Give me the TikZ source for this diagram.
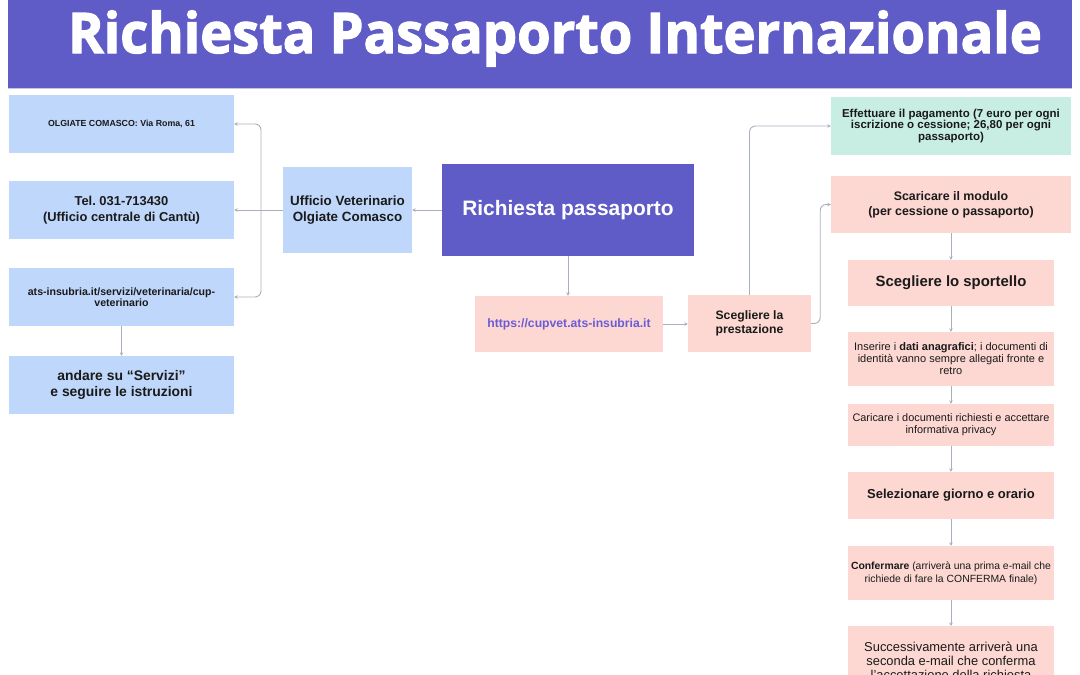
\documentclass[tikz,border=0pt]{standalone}
\usepackage{fontspec}
\setmainfont{Liberation Sans}
\newfontfamily\titlefont{Open Sans}[FakeBold=2.2]
\usetikzlibrary{arrows.meta}
\definecolor{banner}{HTML}{5F5BC7}
\definecolor{lblue}{HTML}{BFD7FB}
\definecolor{lpink}{HTML}{FDD8D3}
\definecolor{mint}{HTML}{C8EEE3}
\definecolor{linkc}{HTML}{6B5CD6}
\definecolor{conn}{HTML}{A9B0BD}
\definecolor{ink}{HTML}{1A1A1A}
\newcommand{\fs}[2]{\fontsize{#1}{#2}\selectfont}
\frenchspacing
\begin{document}
\begin{tikzpicture}[x=1pt,y=-1pt,
  boxbase/.style={rectangle,inner sep=0pt,align=center,text=ink},
  bluebox/.style={boxbase,fill=lblue},
  pinkbox/.style={boxbase,fill=lpink},
  mintbox/.style={boxbase,fill=mint},
  purplebox/.style={boxbase,fill=banner,text=white},
  connector/.style={draw=conn,line width=0.9pt,-{Stealth[length=3.5pt,width=3.5pt]}},
  roundconn/.style={connector,rounded corners=6pt}
]
\useasboundingbox (0,0) rectangle (1080,675);
\clip (0,0) rectangle (1080,675);
% banner
\node[purplebox,minimum width=1064,minimum height=88] (banner) at (540,44) {};
\draw[conn!70,line width=0.6pt] (banner.south west) -- (banner.south east);
\node[anchor=base,text=white,inner sep=0pt] (title) at (555,53)
  {\resizebox{974pt}{\height}{\titlefont\bfseries\fs{56}{56}Richiesta Passaporto Internazionale}};
% left column
\node[bluebox,minimum width=225,minimum height=58,font={\bfseries\fs{8.8}{10}}] (b1) at (121.5,124)
  {OLGIATE COMASCO: Via Roma, 61};
\node[bluebox,minimum width=225,minimum height=58,font={\bfseries\fs{12.9}{15.5}}] (b2) at (121.5,210)
  {Tel. 031-713430\\(Ufficio centrale di Cantù)};
\node[bluebox,minimum width=225,minimum height=58,font={\bfseries\fs{10.6}{11.5}}] (b3) at (121.5,297)
  {ats-insubria.it/servizi/veterinaria/cup-\\veterinario};
\node[bluebox,minimum width=225,minimum height=58,font={\bfseries\fs{13.9}{15.5}}] (b4) at (121.5,385)
  {andare su “Servizi”\\e seguire le istruzioni};
\node[bluebox,minimum width=129,minimum height=86,font={\bfseries\fs{13.4}{16}}] (uff) at (347.5,210)
  {Ufficio Veterinario\\Olgiate Comasco};
\node[purplebox,minimum width=252,minimum height=92,font={\bfseries\fs{20.9}{24}}] (rp) at (568,210)
  {Richiesta passaporto};
\node[pinkbox,minimum width=188,minimum height=56,text=linkc,font={\bfseries\fs{12.2}{13}}] (url) at (569,324)
  {https://cupvet.ats-insubria.it};
\node[pinkbox,minimum width=123,minimum height=57,font={\bfseries\fs{12.2}{14.5}}] (sp) at (749.5,323.5)
  {Scegliere la\\prestazione};
% right column
\node[mintbox,minimum width=240,minimum height=58,font={\bfseries\fs{11.5}{11.5}}] (eff) at (951,126)
  {Effettuare il pagamento (7 euro per ogni\\iscrizione o cessione; 26,80 per ogni\\passaporto)};
\node[pinkbox,minimum width=240,minimum height=57,font={\bfseries\fs{12.4}{15}}] (sca) at (951,204.5)
  {Scaricare il modulo\\(per cessione o passaporto)};
\node[pinkbox,minimum width=206,minimum height=46,font={\bfseries\fs{14.9}{16}}] (spo) at (951,283)
  {Scegliere lo sportello};
\node[pinkbox,minimum width=206,minimum height=54,font={\fs{11}{12}}] (ins) at (951,359)
  {Inserire i \textbf{dati anagrafici}; i documenti di\\identità vanno sempre allegati fronte e\\retro};
\node[pinkbox,minimum width=206,minimum height=42,font={\fs{10.9}{12}}] (car) at (951,425)
  {Caricare i documenti richiesti e accettare\\informativa privacy};
\node[pinkbox,minimum width=206,minimum height=47,font={\bfseries\fs{13}{15}}] (sel) at (951,495.5)
  {Selezionare giorno e orario};
\node[pinkbox,minimum width=206,minimum height=54,font={\fs{10.4}{12.5}}] (con) at (951,573)
  {\textbf{Confermare} (arriverà una prima e-mail che\\richiede di fare la CONFERMA finale)};
\node[pinkbox,minimum width=206,minimum height=70,anchor=north,font={\fs{12.9}{14}}] (suc) at (951,626)
  {Successivamente arriverà una\\seconda e-mail che conferma\\l'accettazione della richiesta};
% connectors
\coordinate (j) at (261,210);
\draw[connector] (uff.west) -- (b2.east);
\draw[roundconn] (j) |- (b1.east);
\draw[roundconn] (j) |- (b3.east);
\draw[connector] (b3.south) -- (b4.north);
\draw[connector] (rp.west) -- (uff.east);
\draw[connector] (rp.south) -- (rp.south |- url.north);
\draw[connector] (url.east) -- (url.east -| sp.west);
\draw[roundconn] (sp.north) |- (eff.west);
\draw[roundconn] (sp.east) -- ++(9,0) |- (sca.west);
\draw[connector] (sca.south) -- (spo.north);
\draw[connector] (spo.south) -- (ins.north);
\draw[connector] (ins.south) -- (car.north);
\draw[connector] (car.south) -- (sel.north);
\draw[connector] (sel.south) -- (con.north);
\draw[connector] (con.south) -- (suc.north);
\end{tikzpicture}
\end{document}
